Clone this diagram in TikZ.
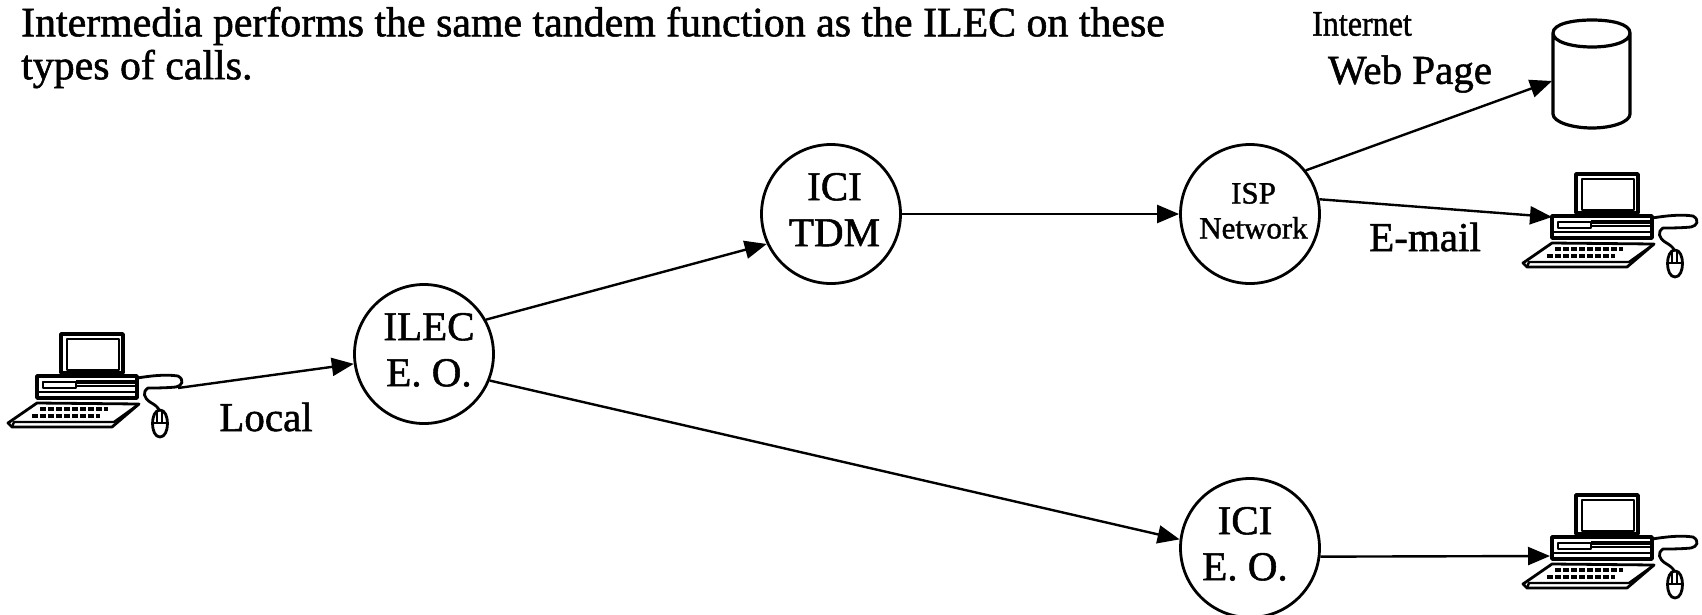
\documentclass[tikz,border=0pt]{standalone}
\usepackage{fontspec}
\usepackage{graphicx}
\setmainfont{Liberation Serif}
\newfontfamily\heavy[FakeBold=1.3]{Liberation Serif}
\usetikzlibrary{arrows.meta}
\newcommand{\hubtext}[4]{\kern#2\raisebox{#1}{\begin{tabular}{@{}c@{}}#3\\#4\end{tabular}}}
\tikzset{
  hub/.style={draw,circle,line width=2.8pt,minimum size=139pt,inner sep=0pt,align=center,font=\heavy\fontsize{41}{46}\selectfont},
  link/.style={line width=2.4pt,-{Triangle[length=22pt,width=18pt]}},
  lbl/.style={inner sep=0pt,font=\heavy\fontsize{41}{44}\selectfont},
  head/.style={inner sep=0pt,anchor=west,font=\heavy\fontsize{41.85}{44}\selectfont},
  ink/.style={line width=2.4pt,line join=round,line cap=round},
  pics/pc/.style={code={
    \draw[ink,line width=3.5pt] (61,24) rectangle (123,63);
    \draw[ink,line width=1.6pt] (67,29) -- (119,29) -- (119,60) -- (67,60) -- cycle;
    \draw[ink,line width=3.5pt] (37,66) -- (137,66) -- (137,88) -- (37,88) -- cycle;
    \draw[ink,line width=2pt] (43,72) -- (76,72) -- (76,76) -- (136,76);
    \draw[ink,line width=2pt] (43,72) -- (43,78) -- (76,78) -- (76,76);
    \fill (76,70) rectangle (136,74);
    \draw[ink] (37,82) -- (137,82);
    \draw[ink,line width=2.8pt] (37,93) -- (139,94) -- (112,117) -- (12,117) -- (8,113) -- cycle;
    \draw[ink] (12,117) -- (14,112) -- (114,112) -- (139,94);
    \draw[line width=4pt,dash pattern=on 6pt off 2pt] (40,99) -- (108,99);
    \draw[line width=4pt,dash pattern=on 6pt off 2pt] (32,106) -- (100,106);
    \draw[ink,line width=2.8pt] (137,68) .. controls (150,66) and (165,64) .. (178,66) .. controls (185,70) and (182,76) .. (176,77)
       .. controls (165,78) and (155,78) .. (148,78) .. controls (142,82) and (144,88) .. (150,92) .. controls (155,95) and (158,97) .. (159,100);
    \draw[ink,line width=2.8pt] (160,100) .. controls (170,100) and (170,127) .. (160,127) .. controls (150,127) and (150,100) .. (160,100);
    \draw[ink,line width=1.6pt] (152,113) -- (168,113) (157,102) -- (157,113) (162,102) -- (162,113);
  }}
}
\begin{document}
\begin{tikzpicture}[x=1pt,y=-1pt]
\useasboundingbox (0,0) rectangle (1702,614);
\node[head] (h1) at (21,26) {Intermedia performs the same tandem function as the ILEC on these};
\node[head] (h2) at (21,69) {types of calls.};
\node[hub] (ilec) at (424,354) {\hubtext{-4.5pt}{10pt}{ILEC}{E. O.}};
\node[hub] (tdm) at (831,214) {\hubtext{-19pt}{7pt}{ICI}{TDM}};
\node[hub,font=\heavy\fontsize{31}{35}\selectfont] (isp) at (1250,214) {\hubtext{12pt}{7pt}{ISP}{Network}};
\node[hub] (eo) at (1250,548) {\hubtext{5pt}{-10pt}{ICI}{E. O.}};
\node[minimum width=79pt,minimum height=108pt,inner sep=0pt] (db) at (1591,74) {};
\draw[line width=3.2pt,line join=round]
  (1553,33) .. controls (1553,24) and (1572,20) .. (1592,20)
  .. controls (1612,20) and (1630,24) .. (1630,33)
  -- (1630,114)
  .. controls (1630,122) and (1612,128) .. (1592,128)
  .. controls (1572,128) and (1553,122) .. (1553,114)
  -- cycle
  (1553,33) .. controls (1553,42) and (1572,47) .. (1592,47)
  .. controls (1612,47) and (1630,42) .. (1630,33);
\pic at (0,310) {pc};
\pic at (1515,150) {pc};
\pic at (1515,471) {pc};
\coordinate (pca) at (178,388);
\coordinate (pcb) at (1552,217);
\coordinate (pcc) at (1550,556);
\coordinate (dbin) at (1552,81);
\draw[link] (pca) -- (ilec.188);
\draw[link] (ilec.29) -- (tdm.205);
\draw[link] (ilec.-22) -- (eo.173);
\draw[link] (tdm.east) -- (isp.west);
\draw[link] (isp.38) -- (dbin);
\draw[link] (isp.12) -- (pcb);
\draw[link] (eo.-7) -- (pcc);
\node[lbl] (local) at (266,417) {Local};
\node[lbl] (email) at (1425,237) {E-mail};
\node[lbl,font=\heavy\fontsize{36}{40}\selectfont] (inet) at (1362,24) {\scalebox{0.89}[1]{Internet}};
\node[lbl] (web) at (1410,74) {Web Page};
\end{tikzpicture}
\end{document}
